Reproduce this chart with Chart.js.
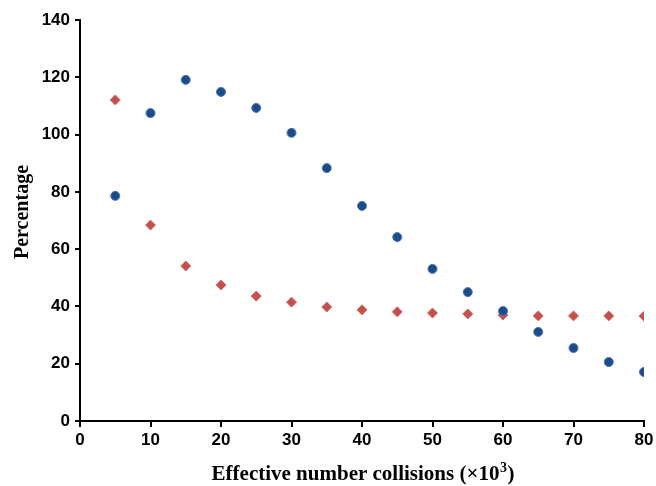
<!DOCTYPE html>
<html>
<head>
<meta charset="utf-8">
<script src="https://cdn.jsdelivr.net/npm/chart.js@4/dist/chart.umd.min.js"></script>
<style>
html,body{margin:0;padding:0;background:#fff;}
#wrap{width:656px;height:486px;}
</style>
</head>
<body>
<div id="wrap"><canvas id="c" width="656" height="486"></canvas></div>
<script>
const collisions = [5,10,15,20,25,30,35,40,45,50,55,60,65,70,75,80];
const blueSeries = [78.6,107.5,119.1,114.9,109.3,100.6,88.3,75.1,64.2,53.1,45.0,38.4,31.1,25.5,20.6,17.1];
const redSeries  = [112.1,68.4,54.1,47.5,43.6,41.5,39.8,38.8,38.1,37.7,37.4,37.0,36.7,36.7,36.7,36.6];
const xTicks = [0,10,20,30,40,50,60,70,80];
const yTicks = [0,20,40,60,80,100,120,140];
const xTitleMain = "Effective number collisions (\u00d710";
const xTitleSup = "3";
const xTitleEnd = ")";
const yTitle = "Percentage";

const toPts = (ys) => collisions.map((x,i)=>({x:x,y:ys[i]}));

const titleFont = (s) => 'bold ' + s + 'px "Liberation Serif", "Times New Roman", serif';

const titlePlugin = {
  id:'axisTitles',
  afterDraw(chart){
    const ctx = chart.ctx;
    ctx.save();
    ctx.fillStyle = '#000';
    ctx.textBaseline = 'alphabetic';
    ctx.textAlign = 'left';
    ctx.font = titleFont(21);
    const w1 = ctx.measureText(xTitleMain).width;
    const w3 = ctx.measureText(xTitleEnd).width;
    ctx.font = titleFont(14);
    const w2 = ctx.measureText(xTitleSup).width;
    const total = w1 + w2 + 1 + w3;
    let x0 = 363 - total/2;
    const base = 480;
    ctx.font = titleFont(21);
    ctx.fillText(xTitleMain, x0, base);
    ctx.font = titleFont(14);
    ctx.fillText(xTitleSup, x0 + w1 + 0.5, base - 8);
    ctx.font = titleFont(21);
    ctx.fillText(xTitleEnd, x0 + w1 + w2 + 1, base);

    ctx.font = titleFont(20);
    ctx.textAlign = 'center';
    ctx.textBaseline = 'middle';
    ctx.translate(23, 212);
    ctx.rotate(-Math.PI/2);
    ctx.fillText(yTitle, 0, 0);
    ctx.restore();
  }
};

const tickFont = {family:'"Liberation Sans", Arial, sans-serif', size:17, weight:'bold'};

new Chart(document.getElementById('c'), {
  type:'scatter',
  data:{
    datasets:[
      {label:'Series 1', data:toPts(blueSeries), pointStyle:'circle', pointRadius:4.5,
       backgroundColor:'#1d4b88', borderColor:'#4677b5', borderWidth:1},
      {label:'Series 2', data:toPts(redSeries), pointStyle:'rectRot', pointRadius:5,
       backgroundColor:'#c4504d', borderColor:'#d06a66', borderWidth:1}
    ]
  },
  options:{
    responsive:false,
    animation:false,
    layout:{padding:{top:20,right:12,left:0,bottom:0}},
    plugins:{legend:{display:false}, tooltip:{enabled:false}},
    scales:{
      x:{
        type:'linear', min:0, max:80,
        afterBuildTicks(s){ s.ticks = xTicks.map(v=>({value:v})); },
        afterFit(s){ s.height = 65; s.paddingRight = 0; s.paddingLeft = 0; },
        border:{display:true,color:'#000',width:2},
        grid:{drawOnChartArea:false, drawTicks:true, tickLength:6, color:'#000', lineWidth:2},
        ticks:{color:'#000', font:tickFont, padding:3, maxRotation:0, autoSkip:false}
      },
      y:{
        type:'linear', min:0, max:140,
        afterBuildTicks(s){ s.ticks = yTicks.map(v=>({value:v})); },
        afterFit(s){ s.width = 80; s.paddingTop = 0; s.paddingBottom = 0; },
        border:{display:true,color:'#000',width:2},
        grid:{drawOnChartArea:false, drawTicks:true, tickLength:5, color:'#000', lineWidth:2},
        ticks:{color:'#000', font:tickFont, padding:5, autoSkip:false}
      }
    }
  },
  plugins:[titlePlugin]
});
</script>
</body>
</html>
